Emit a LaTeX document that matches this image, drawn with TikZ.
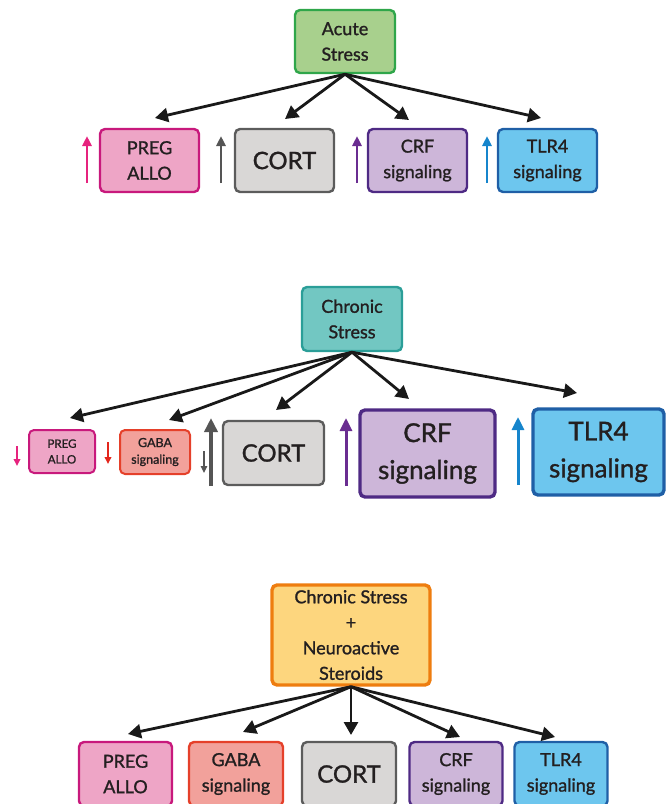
\documentclass[tikz,border=0pt]{standalone}
\usepackage{fontspec}
\setmainfont{Lato}[FakeBold=1.2]
\usetikzlibrary{arrows.meta}
\definecolor{txt}{HTML}{231F20}
\definecolor{greenf}{HTML}{A8D08D}
\definecolor{greend}{HTML}{2FA64A}
\definecolor{tealf}{HTML}{72C7C2}
\definecolor{teald}{HTML}{2B9E98}
\definecolor{orangef}{HTML}{FDD67E}
\definecolor{oranged}{HTML}{EE7D0F}
\definecolor{pinkf}{HTML}{EEA5C6}
\definecolor{pinkd}{HTML}{C8197C}
\definecolor{pinka}{HTML}{E6237E}
\definecolor{grayf}{HTML}{D9D7D6}
\definecolor{grayd}{HTML}{5C5C5C}
\definecolor{graya}{HTML}{555555}
\definecolor{purf}{HTML}{CDB6D9}
\definecolor{purd}{HTML}{4E2A84}
\definecolor{pura}{HTML}{6A2D91}
\definecolor{bluef}{HTML}{6DC6EE}
\definecolor{blued}{HTML}{1F5FA6}
\definecolor{bluea}{HTML}{1685CC}
\definecolor{redf}{HTML}{F2A19B}
\definecolor{redd}{HTML}{E5402A}
\definecolor{reda}{HTML}{E3261C}
\tikzset{
  box/.style={draw, rounded corners=5pt, line width=2.4pt, align=center, inner sep=0pt,
    text=txt, font=\fontsize{18}{25.5}\selectfont},
  bigtext/.style={font=\fontsize{24}{30}\selectfont},
  hugetext/.style={font=\fontsize{26}{37}\selectfont},
  conn/.style={-{Triangle[length=13pt,width=14pt]}, line width=2.8pt, black!90},
  sidearrow/.style={line width=2.6pt, -{Triangle[length=10pt,width=9pt]}},
  smallarrow/.style={line width=1.8pt, -{Triangle[length=7pt,width=6.5pt]}}
}
\begin{document}
\begin{tikzpicture}[x=1pt,y=-1pt]
\useasboundingbox (0,0) rectangle (665,804);

% ---------------- Panel 1: acute stress ----------------
\node[box, fill=greenf, draw=greend, minimum width=100pt, minimum height=63pt] (acute) at (345,41.5) {Acute\\Stress};
\node[box, fill=pinkf, draw=pinkd, minimum width=99pt, minimum height=63pt] (preg1) at (149.5,160.5) {PREG\\ALLO};
\node[box, bigtext, fill=grayf, draw=grayd, minimum width=99pt, minimum height=63pt] (cort1) at (284.5,160.5) {CORT};
\node[box, fill=purf, draw=purd, minimum width=99pt, minimum height=63pt] (crf1) at (417.5,160.5) {CRF\\signaling};
\node[box, fill=bluef, draw=blued, minimum width=99pt, minimum height=63pt] (tlr1) at (547.5,160.5) {TLR4\\signaling};

\coordinate (t1a) at (155,118);
\coordinate (t1b) at (285,119);
\coordinate (t1c) at (409,120);
\coordinate (t1d) at (541,118);
\draw[conn] (acute.south) -- (t1a);
\draw[conn] (acute.south) -- (t1b);
\draw[conn] (acute.south) -- (t1c);
\draw[conn] (acute.south) -- (t1d);

\coordinate (u1a0) at (87,183); \coordinate (u1a1) at (87,136);
\coordinate (u1b0) at (221,183); \coordinate (u1b1) at (221,136);
\coordinate (u1c0) at (357,183); \coordinate (u1c1) at (357,136);
\coordinate (u1d0) at (487,183); \coordinate (u1d1) at (487,136);
\draw[sidearrow, pinka] (u1a0) -- (u1a1);
\draw[sidearrow, graya] (u1b0) -- (u1b1);
\draw[sidearrow, pura] (u1c0) -- (u1c1);
\draw[sidearrow, bluea] (u1d0) -- (u1d1);

% ---------------- Panel 2: chronic stress ----------------
\node[box, fill=tealf, draw=teald, minimum width=100pt, minimum height=64pt] (chronic) at (352,319) {Chronic\\Stress};
\node[box, line width=2pt, font=\fontsize{11.5}{15.7}\selectfont, fill=pinkf, draw=pinkd, minimum width=66pt, minimum height=43pt] (preg2) at (62,451.5) {PREG\\ALLO};
\node[box, line width=2pt, font=\fontsize{12.5}{16.7}\selectfont, fill=redf, draw=redd, minimum width=70pt, minimum height=44pt] (gaba2) at (155,452) {GABA\\signaling};
\node[box, bigtext, fill=grayf, draw=grayd, minimum width=101pt, minimum height=64pt] (cort2) at (273.5,453) {CORT};
\node[box, hugetext, line width=3.4pt, fill=purf, draw=purd, minimum width=135pt, minimum height=87pt] (crf2) at (427.5,453.5) {CRF\\signaling};
\node[box, hugetext, line width=3.4pt, fill=bluef, draw=blued, minimum width=131pt, minimum height=86pt] (tlr2) at (598.5,452) {TLR4\\signaling};

\coordinate (t2a) at (70,418);
\coordinate (t2b) at (169,420);
\coordinate (t2c) at (276,410);
\coordinate (t2d) at (409,399);
\coordinate (t2e) at (577,393);
\draw[conn] (chronic.south) -- (t2a);
\draw[conn] (chronic.south) -- (t2b);
\draw[conn] (chronic.south) -- (t2c);
\draw[conn] (chronic.south) -- (t2d);
\draw[conn] (chronic.south) -- (t2e);

\coordinate (d2a0) at (17,446); \coordinate (d2a1) at (17,466);
\coordinate (d2b0) at (108,442); \coordinate (d2b1) at (108,464);
\coordinate (d2c0) at (204,451); \coordinate (d2c1) at (204,473);
\draw[smallarrow, pinka] (d2a0) -- (d2a1);
\draw[smallarrow, reda] (d2b0) -- (d2b1);
\draw[smallarrow, line width=1.4pt, graya] (d2c0) -- (d2c1);
\coordinate (u2a0) at (211,486); \coordinate (u2a1) at (211,418);
\coordinate (u2b0) at (346,486); \coordinate (u2b1) at (346,418);
\coordinate (u2c0) at (518,485); \coordinate (u2c1) at (518,417);
\draw[line width=3.6pt, graya, -{Triangle[length=14pt,width=13pt]}] (u2a0) -- (u2a1);
\draw[line width=3pt, pura, -{Triangle[length=13pt,width=12pt]}] (u2b0) -- (u2b1);
\draw[line width=3pt, bluea, -{Triangle[length=13pt,width=12pt]}] (u2c0) -- (u2c1);

% ---------------- Panel 3: chronic stress + neuroactive steroids ----------------
\node[box, line width=3.4pt, fill=orangef, draw=oranged, minimum width=158pt, minimum height=100pt] (neuro) at (351,635) {Chronic Stress\\+\\Neuroactive\\Steroids};
\node[box, fill=pinkf, draw=pinkd, minimum width=93pt, minimum height=64pt] (preg3) at (125.5,774) {PREG\\ALLO};
\node[box, fill=redf, draw=redd, minimum width=94pt, minimum height=64pt] (gaba3) at (236,774) {GABA\\signaling};
\node[box, bigtext, fill=grayf, draw=grayd, minimum width=94pt, minimum height=64pt] (cort3) at (349,774) {CORT};
\node[box, fill=purf, draw=purd, minimum width=93pt, minimum height=64pt] (crf3) at (456,774) {CRF\\signaling};
\node[box, fill=bluef, draw=blued, minimum width=93pt, minimum height=64pt] (tlr3) at (561,774) {TLR4\\signaling};

\coordinate (t3a) at (128,734);
\coordinate (t3b) at (243,732);
\coordinate (t3c) at (351,735);
\coordinate (t3d) at (460,737);
\coordinate (t3e) at (555,737);
\draw[conn] (neuro.south) -- (t3a);
\draw[conn] (neuro.south) -- (t3b);
\draw[conn] (neuro.south) -- (t3c);
\draw[conn] (neuro.south) -- (t3d);
\draw[conn] (neuro.south) -- (t3e);
\end{tikzpicture}
\end{document}
